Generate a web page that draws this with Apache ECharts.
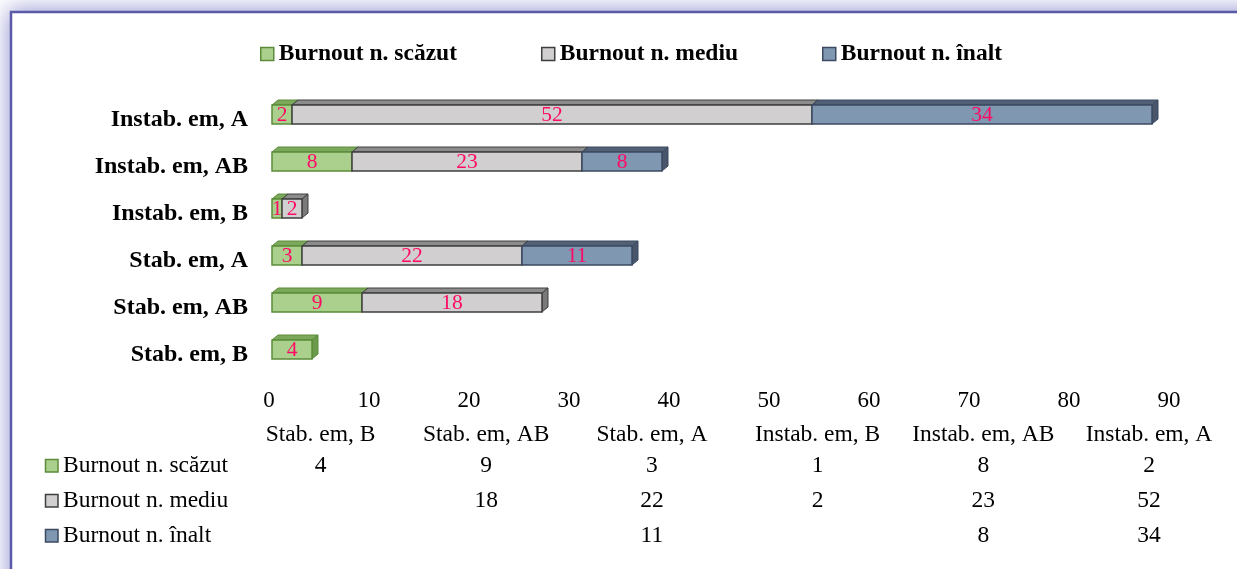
<!DOCTYPE html>
<html>
<head>
<meta charset="utf-8">
<script src="https://cdn.jsdelivr.net/npm/echarts@6/dist/echarts.min.js"></script>
<style>html,body{margin:0;padding:0;background:#fff;}#c{width:1237px;height:569px;}</style>
</head>
<body>
<div id="c"></div>
<script>
const categories = ['Stab. em, B', 'Stab. em, AB', 'Stab. em, A', 'Instab. em, B', 'Instab. em, AB', 'Instab. em, A'];
const seriesNames = ['Burnout n. scăzut', 'Burnout n. mediu', 'Burnout n. înalt'];
const low = [4, 9, 3, 1, 8, 2];
const mid = [null, 18, 22, 2, 23, 52];
const high = [null, null, 11, null, 8, 34];
const xTicks = [0, 10, 20, 30, 40, 50, 60, 70, 80, 90];

const FONT = '"Liberation Serif", "Times New Roman", serif';
const styles = [
  { color: '#abd08e', border: '#5b8c3a', top: '#7ba85a', side: '#6c9a4c' },
  { color: '#d1cfcf', border: '#3f3f3f', top: '#8c8c8c', side: '#7a7a7a' },
  { color: '#8097b1', border: '#3b4a60', top: '#526076', side: '#48556a' }
];
const allSeries = [low, mid, high];

function buildData(idx) {
  const out = [];
  for (let c = 0; c < categories.length; c++) {
    let start = 0;
    for (let k = 0; k < idx; k++) start += allSeries[k][c] || 0;
    const v = allSeries[idx][c];
    if (v) out.push([start, start + v, c, v]);
  }
  return out;
}

function makeRender(idx) {
  const st = styles[idx];
  return function (params, api) {
    const s = api.value(0), e = api.value(1), c = api.value(2), v = api.value(3);
    const p0 = api.coord([s, c]);
    const p1 = api.coord([e, c]);
    const h = 19, dx = 6, dy = 5;
    const x0 = p0[0], x1 = p1[0], yc = p0[1];
    const yt = yc - h / 2, yb = yc + h / 2;
    return {
      type: 'group',
      children: [
        { type: 'polygon', shape: { points: [[x0, yt], [x1, yt], [x1 + dx, yt - dy], [x0 + dx, yt - dy]] },
          style: { fill: st.top, stroke: st.border, lineWidth: 1 } },
        { type: 'polygon', shape: { points: [[x1, yt], [x1 + dx, yt - dy], [x1 + dx, yb - dy], [x1, yb]] },
          style: { fill: st.side, stroke: st.border, lineWidth: 1 } },
        { type: 'rect', shape: { x: x0, y: yt, width: x1 - x0, height: h },
          style: { fill: st.color, stroke: st.border, lineWidth: 1.5 } },
        { type: 'text', style: { text: String(v), x: (x0 + x1) / 2, y: yc + 1, align: 'center', verticalAlign: 'middle',
          fill: '#ff0a64', fontSize: 21.5, fontFamily: FONT } }
      ]
    };
  };
}

const graphics = [];
// frame: glow (fill only) + border (stroke only)
graphics.push({ type: 'rect', z: -10, shape: { x: 11, y: 12, width: 1400, height: 700 },
  style: { fill: '#fff', shadowBlur: 22, shadowColor: 'rgba(100,100,190,0.65)', shadowOffsetX: -3, shadowOffsetY: -3 } });
graphics.push({ type: 'rect', z: -9, shape: { x: 11, y: 12, width: 1400, height: 700 },
  style: { fill: null, stroke: '#5a5aa8', lineWidth: 2.5 } });
// data table
const colX0 = 320.5, colStep = 165.7;
const TBL = 23.5;
categories.forEach((cat, i) => {
  graphics.push({ type: 'text', style: { text: cat, x: colX0 + i * colStep, y: 434.5, align: 'center', verticalAlign: 'middle', fill: '#000', fontSize: TBL, fontFamily: FONT } });
});
const rowY = [466, 501, 536];
seriesNames.forEach((name, r) => {
  graphics.push({ type: 'rect', shape: { x: 45.5, y: rowY[r] - 6.5, width: 12.5, height: 12.5 },
    style: { fill: styles[r].color, stroke: styles[r].border, lineWidth: 1.5 } });
  graphics.push({ type: 'text', style: { text: name, x: 63, y: rowY[r], align: 'left', verticalAlign: 'middle', fill: '#000', fontSize: TBL, fontFamily: FONT } });
  allSeries[r].forEach((v, i) => {
    if (v == null) return;
    graphics.push({ type: 'text', style: { text: String(v), x: colX0 + i * colStep, y: rowY[r], align: 'center', verticalAlign: 'middle', fill: '#000', fontSize: TBL, fontFamily: FONT } });
  });
});

const chart = echarts.init(document.getElementById('c'), null, { renderer: 'canvas' });
chart.setOption({
  animation: false,
  backgroundColor: '#fff',
  graphic: graphics,
  legend: {
    left: 255, top: 37, itemGap: 84, itemWidth: 13, itemHeight: 13, icon: 'rect',
    textStyle: { fontSize: 23.5, fontWeight: 'bold', fontFamily: FONT, color: '#000' },
    data: seriesNames.map((n, i) => ({ name: n, itemStyle: { color: styles[i].color, borderColor: styles[i].border, borderWidth: 1.5 } }))
  },
  grid: { left: 272, top: 91, width: 900, height: 282, containLabel: false },
  xAxis: {
    type: 'value', min: 0, max: 90, interval: 10,
    axisLine: { show: false }, axisTick: { show: false }, splitLine: { show: false },
    axisLabel: { margin: 16, fontSize: 23, fontFamily: FONT, color: '#000', padding: [0, 6, 0, 0],
      formatter: v => xTicks.includes(v) ? String(v) : '' }
  },
  yAxis: {
    type: 'category', data: categories,
    axisLine: { show: false }, axisTick: { show: false },
    axisLabel: { margin: 24, fontSize: 24, fontWeight: 'bold', fontFamily: FONT, color: '#000',
      verticalAlign: 'top', lineHeight: 10 }
  },
  series: seriesNames.map((n, i) => ({
    name: n, type: 'custom', renderItem: makeRender(i),
    itemStyle: { color: styles[i].color, borderColor: styles[i].border },
    encode: { x: [0, 1], y: 2 },
    data: buildData(i)
  }))
});
</script>
</body>
</html>
